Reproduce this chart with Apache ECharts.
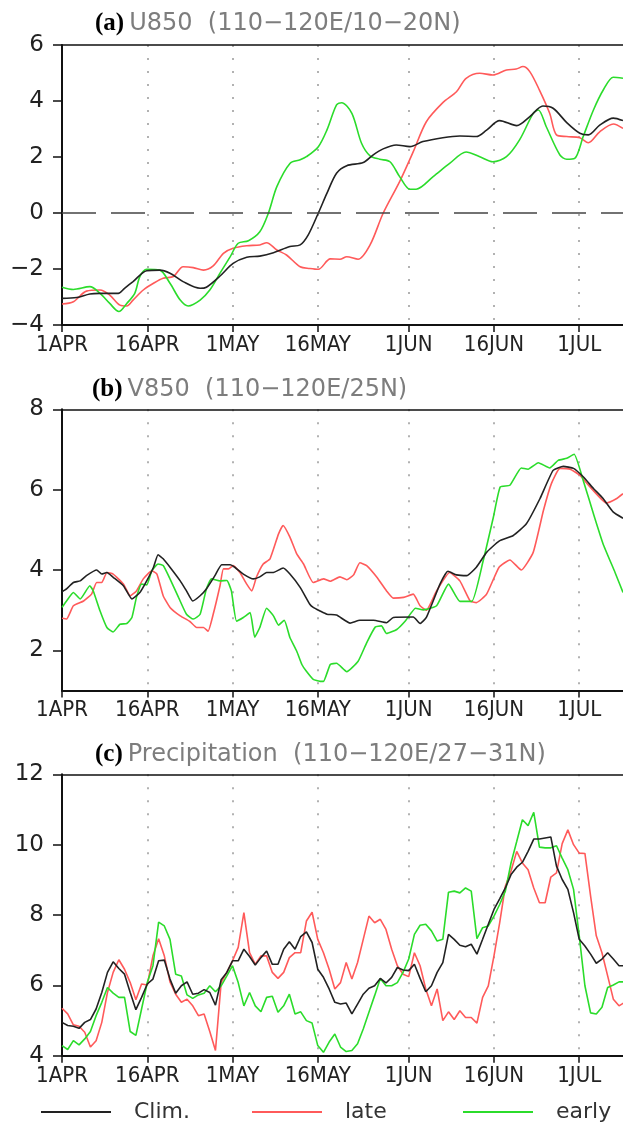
<!DOCTYPE html>
<html>
<head>
<meta charset="utf-8">
<script src="https://cdn.jsdelivr.net/npm/echarts@6/dist/echarts.min.js"></script>
<style>
  html, body { margin: 0; padding: 0; background: #fff; }
  #chart { width: 623px; height: 1126px; }
</style>
</head>
<body>
<div id="chart"></div>
<script>
// --- x axis (days since 1 April) ---
const tickDays = [0, 15, 30, 45, 61, 76, 91];
const tickLabels = ["1APR", "16APR", "1MAY", "16MAY", "1JUN", "16JUN", "1JUL"];

// --- (a) U850, [day, m/s] ---
const u850Clim = [[0,-3.05],[2.6,-3.02],[4.9,-2.89],[6.7,-2.87],[9.9,-2.87],[11,-2.69],[12.5,-2.45],[14.9,-2.06],[17.2,-2.04],[19,-2.15],[21.3,-2.45],[24.3,-2.69],[25.4,-2.65],[27.8,-2.25],[30.1,-1.8],[32.5,-1.58],[34.8,-1.54],[37.2,-1.42],[40.1,-1.2],[41.9,-1.14],[43.3,-0.79],[45.1,0],[46.6,0.7],[48.3,1.42],[50.1,1.69],[53,1.8],[54.7,2.07],[56.5,2.29],[58.8,2.43],[61.2,2.37],[63.5,2.55],[67,2.69],[70,2.75],[72.9,2.73],[74.7,2.96],[77,3.3],[80,3.12],[82.3,3.44],[84.6,3.82],[86.4,3.74],[88.8,3.23],[91.1,2.85],[92.6,2.79],[94.6,3.14],[97,3.39],[98.7,3.3]];
const u850Late = [[0,-3.25],[2,-3.17],[4.3,-2.79],[6.7,-2.75],[8.4,-2.93],[10.2,-3.29],[11.4,-3.32],[12.5,-3.11],[14.3,-2.75],[16.1,-2.51],[17.8,-2.33],[19.6,-2.27],[21.3,-1.92],[23.1,-1.95],[24.9,-2.04],[26.6,-1.89],[28.4,-1.44],[30.1,-1.26],[32.5,-1.17],[34.8,-1.14],[36,-1.06],[37.8,-1.32],[39.5,-1.5],[41.9,-1.92],[43.6,-1.98],[45.1,-2.01],[47.2,-1.64],[48.9,-1.65],[50.1,-1.56],[52.1,-1.65],[54.2,-1.14],[56.5,-0.01],[59.4,1.12],[61.8,2.19],[64.1,3.26],[67,3.94],[69.4,4.33],[71.1,4.81],[73.5,4.99],[75.8,4.93],[78.2,5.11],[79.9,5.14],[81.1,5.23],[82.3,5.05],[84,4.39],[85.8,3.56],[87,2.79],[88.8,2.73],[91.1,2.69],[92.6,2.51],[94.6,2.9],[97,3.18],[98.7,3.02]];
const u850Early = [[0,-2.65],[2,-2.73],[4.9,-2.63],[6.7,-2.87],[8.4,-3.23],[10,-3.52],[11.4,-3.23],[12.8,-2.87],[13.7,-2.27],[14.9,-2.01],[17.2,-2.04],[19,-2.51],[20.8,-3.11],[22.2,-3.32],[24.3,-3.11],[26,-2.75],[27.8,-2.15],[29.6,-1.56],[31,-1.08],[32.8,-0.99],[34.8,-0.67],[36.3,-0.01],[37.8,0.94],[40.1,1.77],[41.9,1.9],[43,2.01],[45.1,2.37],[46.6,2.96],[48.3,3.86],[49.2,3.94],[51,3.56],[52.7,2.49],[54.2,2.04],[55.9,1.92],[57.7,1.83],[59.4,1.3],[61.2,0.85],[62.3,0.85],[65.3,1.3],[68.2,1.77],[71.1,2.18],[73.5,2.01],[75.8,1.83],[78.2,2.01],[80.5,2.61],[82.9,3.56],[83.8,3.68],[85.2,3.08],[87.6,2.07],[88.8,1.92],[90.2,1.95],[91.7,2.73],[93.5,3.68],[95.3,4.42],[97,4.85],[98.7,4.81]];

// --- (b) V850, [day, m/s] ---
const v850Clim = [[0,3.46],[0.8,3.53],[2,3.69],[3.2,3.73],[4.3,3.86],[6.1,4.0],[7,3.9],[7.9,3.94],[9,3.82],[10.8,3.61],[12.3,3.28],[13.7,3.44],[14.9,3.73],[16.1,4.07],[16.9,4.38],[17.8,4.28],[19,4.07],[20.8,3.73],[21.9,3.48],[23,3.23],[24.3,3.36],[25.4,3.53],[26.9,3.86],[28.1,4.13],[29.6,4.13],[30.4,4.07],[31.9,3.9],[33.7,3.78],[34.8,3.83],[36,3.94],[37.2,3.94],[38.9,4.05],[40.1,3.9],[41.9,3.57],[43.6,3.15],[44.2,3.07],[45.4,2.98],[46.6,2.9],[48.3,2.88],[50.7,2.68],[52.4,2.75],[54.8,2.75],[57.1,2.69],[58.3,2.82],[61.8,2.83],[63,2.67],[64.1,2.82],[66.5,3.65],[67.9,3.97],[69.4,3.88],[71.2,3.86],[72.9,4.07],[74.7,4.44],[76.9,4.72],[79.4,4.86],[81.7,5.15],[84.1,5.78],[86.4,6.48],[88.2,6.58],[90,6.53],[91.7,6.32],[93.5,6.03],[95.2,5.78],[97,5.44],[98.7,5.29]];
const v850Late = [[0,2.8],[0.8,2.78],[2,3.11],[3.8,3.23],[5.2,3.4],[6.1,3.69],[7,3.69],[7.9,3.94],[9,3.9],[10.8,3.65],[12,3.36],[13.1,3.48],[14.3,3.78],[15.8,3.98],[16.7,3.9],[17.8,3.36],[19,3.07],[20.8,2.86],[22.5,2.72],[23.7,2.57],[24.9,2.57],[25.7,2.48],[26.6,2.9],[27.8,3.61],[28.4,4.03],[29.3,4.03],[30.1,4.11],[31.3,3.94],[32.5,3.65],[33.4,3.48],[34.2,3.82],[35.4,4.15],[36.6,4.28],[38.1,4.9],[38.9,5.11],[40.1,4.82],[41.3,4.4],[42.5,4.15],[44.2,3.69],[46,3.78],[47.2,3.72],[48.9,3.83],[50.1,3.76],[51.3,3.88],[52.4,4.18],[53.6,4.11],[55.4,3.82],[57.1,3.48],[58.3,3.3],[60.1,3.32],[61.8,3.4],[63,3.11],[64.1,3.0],[65.9,3.48],[68.2,3.94],[70,3.73],[71.8,3.23],[72.9,3.19],[74.7,3.4],[76.9,4.07],[78.8,4.25],[80.8,4.0],[82.9,4.44],[84.7,5.48],[86.1,6.15],[87.6,6.53],[89.4,6.51],[91.1,6.36],[92.9,6.07],[95.8,5.67],[97.6,5.78],[98.7,5.9]];
const v850Early = [[0,3.07],[0.8,3.23],[2,3.44],[3.2,3.28],[4.9,3.61],[5.5,3.48],[6.7,2.98],[7.9,2.57],[9,2.46],[10.2,2.65],[11.4,2.67],[12.3,2.82],[13.1,3.32],[14,3.65],[14.9,3.63],[15.8,3.98],[16.9,4.15],[17.8,4.11],[19,3.78],[20.5,3.32],[21.9,2.9],[23.1,2.78],[24.3,2.9],[25.4,3.53],[26.3,3.78],[27.8,3.73],[29,3.74],[29.8,3.48],[30.7,2.73],[31.9,2.82],[33.1,2.94],[33.9,2.33],[34.8,2.57],[36,3.05],[37.2,2.86],[38.1,2.63],[39.1,2.75],[40.1,2.32],[41.3,1.98],[42.2,1.65],[43,1.48],[44.2,1.28],[45.4,1.23],[46,1.23],[47.2,1.65],[48.3,1.68],[50.1,1.47],[52.1,1.73],[53.6,2.19],[55.1,2.58],[56.2,2.61],[57.1,2.42],[58.9,2.52],[60.4,2.73],[62.2,3.05],[63.6,3.01],[65.9,3.11],[68,3.65],[70,3.22],[72.1,3.22],[74.1,4.23],[75.9,5.32],[77.1,6.07],[78.8,6.11],[80.8,6.54],[82,6.51],[83.8,6.67],[85.8,6.54],[87.3,6.73],[88.8,6.78],[90.1,6.88],[91.7,6.23],[93.5,5.4],[95.2,4.65],[97.3,3.94],[98.7,3.44]];

// --- (c) Precipitation, one value per day from 1 April ---
const precClim = [4.95,4.86,4.84,4.78,4.95,5.03,5.33,5.8,6.37,6.67,6.48,6.32,5.8,5.31,5.66,6.04,6.18,6.7,6.72,6.18,5.78,5.99,6.1,5.75,5.78,5.88,5.8,5.44,6.16,6.37,6.7,6.7,7.03,6.82,6.58,6.79,6.98,6.6,6.6,7.03,7.24,7.03,7.39,7.52,7.22,6.46,6.23,5.9,5.52,5.47,5.5,5.19,5.47,5.75,5.92,5.99,6.2,6.07,6.23,6.51,6.44,6.42,6.6,6.2,5.82,5.99,6.37,6.65,7.45,7.31,7.14,7.1,7.17,6.89,7.31,7.74,8.16,8.46,8.77,9.15,9.36,9.5,9.81,10.16,10.16,10.19,10.22,9.39,9.01,8.73,8.07,7.31,7.12,6.89,6.63,6.75,6.93,6.75,6.56,6.56];
const precLate = [5.35,5.19,4.88,4.84,4.67,4.25,4.43,4.95,5.8,6.37,6.73,6.46,6.08,5.59,6.04,6.01,6.84,7.33,6.84,6.1,5.75,5.52,5.61,5.42,5.14,5.19,4.69,4.15,6.08,6.37,6.7,7.08,8.07,6.93,6.6,6.84,6.84,6.37,6.2,6.37,6.79,6.93,6.93,7.83,8.08,7.31,6.93,6.46,5.9,6.08,6.65,6.18,6.65,7.31,7.97,7.78,7.88,7.59,7.03,6.56,6.32,6.25,6.93,6.56,5.9,5.42,5.9,5.0,5.25,5.03,5.28,5.09,5.09,4.93,5.66,5.99,6.84,7.78,8.82,9.25,9.81,9.48,9.29,8.77,8.35,8.35,9.08,9.2,10.03,10.42,10.0,9.76,9.75,8.54,7.41,6.93,6.27,5.61,5.42,5.52];
const precEarly = [4.29,4.18,4.43,4.31,4.48,4.69,5.14,5.52,5.94,5.78,5.66,5.66,4.69,4.58,5.33,6.08,6.56,7.8,7.69,7.31,6.32,6.27,5.73,5.63,5.73,5.78,5.99,5.82,5.99,6.27,6.56,6.08,5.42,5.8,5.42,5.25,5.66,5.69,5.24,5.42,5.75,5.19,5.25,5.0,4.93,4.29,4.1,4.39,4.62,4.25,4.12,4.15,4.34,4.76,5.24,5.71,6.2,5.99,5.99,6.08,6.37,6.75,7.45,7.71,7.74,7.55,7.26,7.31,8.65,8.68,8.63,8.77,8.68,7.33,7.64,7.69,7.97,8.3,8.68,9.48,10.09,10.71,10.54,10.92,9.93,9.91,9.91,9.97,9.62,9.29,8.73,7.41,5.99,5.22,5.19,5.38,5.94,6.01,6.1,6.1];

const C_CLIM = "#222222";
const C_LATE = "#ff5a5a";
const C_EARLY = "#2bdc2b";
const X_MAX = 98.7;

const chart = echarts.init(document.getElementById("chart"));

// panel geometry (px)
const panels = [
  { top: 45, height: 280, min: -4, max: 6, ticks: [-4, -2, 0, 2, 4, 6],
    tag: "(a)", title: "U850  (110−120E/10−20N)", titleTop: 10, titleLeft: 95 },
  { top: 409.3, height: 281.3, min: 1, max: 8, ticks: [2, 4, 6, 8],
    tag: "(b)", title: "V850  (110−120E/25N)", titleTop: 376, titleLeft: 92 },
  { top: 774.3, height: 281.5, min: 4, max: 12, ticks: [4, 6, 8, 10, 12],
    tag: "(c)", title: "Precipitation  (110−120E/27−31N)", titleTop: 741, titleLeft: 95 },
];

function dayLabel(v) {
  const i = tickDays.indexOf(Math.round(v));
  return i >= 0 ? tickLabels[i] : "";
}

function fmtY(v) {
  return v < 0 ? "−" + Math.abs(v) : String(v);
}

const grids = panels.map((p) => ({
  left: 62, width: 561, top: p.top, height: p.height, containLabel: false,
}));

const xAxes = [];
panels.forEach((p, i) => {
  xAxes.push({
    type: "value", gridIndex: i, min: 0, max: X_MAX, position: "bottom",
    axisLine: { onZero: false, lineStyle: { color: "#111", width: 2 } },
    axisTick: { customValues: tickDays, length: 7, lineStyle: { color: "#111", width: 1.5 } },
    axisLabel: {
      customValues: tickDays, formatter: dayLabel, margin: 9,
      fontFamily: "'Liberation Sans Narrow', 'DejaVu Sans Condensed', 'DejaVu Sans'",
      fontSize: 22, color: "#222",
    },
    splitLine: { show: true, lineStyle: { color: "#999", width: 1.5, type: [2, 11] } },
  });
});
panels.forEach((p, i) => {
  xAxes.push({
    type: "value", gridIndex: i, min: 0, max: X_MAX, position: "top",
    axisLine: { onZero: false, lineStyle: { color: "#111", width: 1.5 } },
    axisTick: { show: false }, axisLabel: { show: false }, splitLine: { show: false },
  });
});

const yAxes = panels.map((p, i) => ({
  type: "value", gridIndex: i, min: p.min, max: p.max,
  axisLine: { show: true, onZero: false, lineStyle: { color: "#111", width: 2 } },
  axisTick: { show: true, customValues: p.ticks, length: 9, lineStyle: { color: "#111", width: 1.5 } },
  axisLabel: {
    customValues: p.ticks, formatter: fmtY, margin: 18,
    fontFamily: "DejaVu Sans", fontSize: 23, color: "#222",
  },
  splitLine: { show: false },
}));

function line(name, color, data, i, smooth) {
  return {
    name: name, type: "line", xAxisIndex: i, yAxisIndex: i,
    data: data, smooth: smooth, symbol: "none", showSymbol: false,
    color: color, lineStyle: { color: color, width: 1.6 },
    z: name === "Clim." ? 4 : 3,
  };
}

const withDay = (vals) => vals.map((v, d) => [d, v]);

const series = [
  line("Clim.", C_CLIM, u850Clim, 0, 0.3),
  line("late", C_LATE, u850Late, 0, 0.3),
  line("early", C_EARLY, u850Early, 0, 0.3),
  line("Clim.", C_CLIM, v850Clim, 1, 0.15),
  line("late", C_LATE, v850Late, 1, 0.15),
  line("early", C_EARLY, v850Early, 1, 0.15),
  line("Clim.", C_CLIM, withDay(precClim), 2, false),
  line("late", C_LATE, withDay(precLate), 2, false),
  line("early", C_EARLY, withDay(precEarly), 2, false),
];

// dashed zero line in panel (a)
series[0].markLine = {
  silent: true, symbol: "none", label: { show: false },
  lineStyle: { color: "#444", width: 1.5, type: [34, 15] },
  data: [{ yAxis: 0 }],
};

const titles = panels.map((p) => ({
  left: p.titleLeft, top: p.titleTop, padding: 0,
  text: "{b|" + p.tag + "} {g|" + p.title + "}",
  textStyle: {
    fontWeight: "normal",
    rich: {
      b: { fontFamily: "'Liberation Serif'", fontWeight: "bold", fontSize: 25, color: "#000", lineHeight: 28 },
      g: { fontFamily: "DejaVu Sans", fontWeight: "normal", fontSize: 24, color: "#7d7d7d", lineHeight: 28 },
    },
  },
}));

const legendNames = ["Clim.", "late", "early"];
const legendLefts = [41, 252, 463];
const legends = legendNames.map((n, i) => ({
  left: legendLefts[i], top: 1100, data: [n], icon: "rect",
  itemWidth: 70, itemHeight: 2, padding: 0, selectedMode: false,
  textStyle: {
    fontFamily: "DejaVu Sans", fontSize: 22, color: "#333",
    lineHeight: 24, padding: [0, 0, 0, 18],
  },
}));

chart.setOption({
  animation: false,
  backgroundColor: "#fff",
  title: titles,
  legend: legends,
  grid: grids,
  xAxis: xAxes,
  yAxis: yAxes,
  series: series,
});
</script>
</body>
</html>
